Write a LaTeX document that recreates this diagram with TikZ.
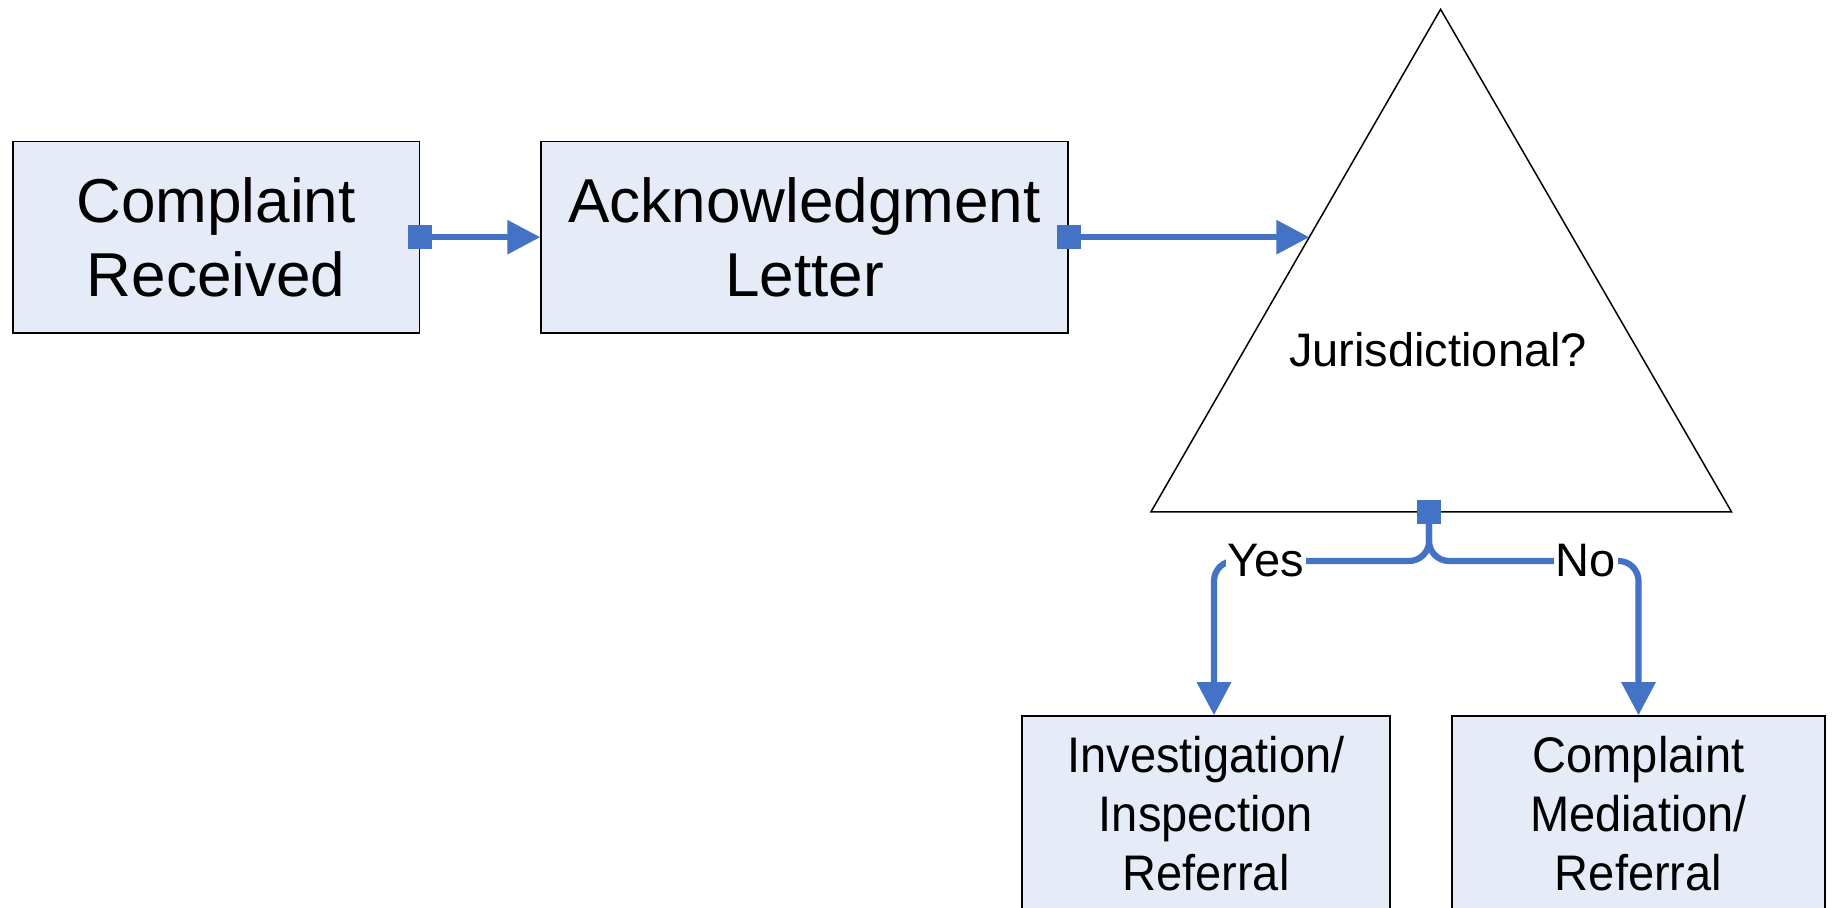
\documentclass[tikz,border=0pt]{standalone}
\usepackage{fontspec}
\setmainfont{Liberation Sans}
\newfontfamily\narrowsans[FakeStretch=0.94]{Liberation Sans}
\usetikzlibrary{arrows.meta,calc}
\definecolor{boxfill}{RGB}{229,235,247}
\definecolor{flowblue}{RGB}{68,114,196}
\begin{document}
\begin{tikzpicture}[x=0.5pt,y=-0.5pt,
  procbox/.style={draw=black, line width=0.75pt, fill=boxfill, align=center, inner sep=0pt},
  bigtext/.style={font=\fontsize{31}{37}\selectfont},
  smalltext/.style={font=\narrowsans\fontsize{25}{29.5}\selectfont},
  conn/.style={draw=flowblue, line width=3.1pt, -{Triangle[length=16.5pt,width=16.5pt]}},
  sq/.style={fill=flowblue, minimum size=12pt, inner sep=0pt},
  lbl/.style={fill=white, inner sep=1pt, font=\fontsize{23.5}{28}\selectfont}]
\useasboundingbox (0,0) rectangle (1832,908);

% process boxes
\node[procbox, bigtext, minimum width=203.3pt, minimum height=95.8pt] (recv) at (216.2,237.2) {Complaint\\Received};
\node[procbox, bigtext, minimum width=263.5pt, minimum height=95.8pt] (ack) at (804.5,237.2) {Acknowledgment\\Letter};

% decision triangle
\coordinate (apex) at (1440.6,9.3);
\coordinate (bl) at (1150.9,512);
\coordinate (br) at (1731.6,512);
\draw[black, line width=0.75pt, fill=white] (apex) -- (bl) -- (br) -- cycle;
\node[font=\fontsize{23.5}{28}\selectfont] (jur) at (1438,350) {Jurisdictional?};

% outcome boxes
\node[procbox, smalltext, minimum width=184pt, minimum height=98pt] (inv) at (1206,814) {Investigation/\\Inspection\\Referral};
\node[procbox, smalltext, minimum width=186.5pt, minimum height=98pt] (med) at (1638.5,814) {Complaint\\Mediation/\\Referral};

% connection points
\coordinate (jin) at ($(apex)!0.4532!(bl)$);
\coordinate (jout) at ($(bl)!0.479!(br)$);
\node[sq] (s1) at (recv.east) {};
\node[sq] (s2) at (ack.east) {};
\node[sq] (s3) at (jout) {};
\coordinate (fork) at ($(s3.center)+(0,49)$);
\coordinate (invin) at ($(inv.north)+(8,0)$);

% connectors
\draw[conn] (s1.center) -- (ack.west);
\draw[conn] (s2.center) -- (s2.center -| jin);
\draw[conn, rounded corners=10pt] (s3.center) -- (fork) -| (invin);
\draw[conn, rounded corners=10pt] (s3.center) -- (fork) -| (med.north);

% branch labels
\node[lbl] (yes) at (1266,561) {Yes};
\node[lbl] (no) at (1586,561) {No};
\end{tikzpicture}
\end{document}
